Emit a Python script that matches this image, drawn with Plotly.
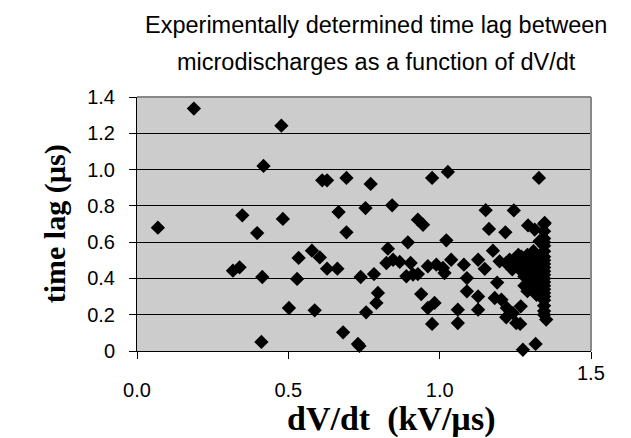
import plotly.graph_objects as go

# dV/dt (kV/us) and measured time lag (us)
dvdt = [
    0.069, 0.188, 0.348, 0.317, 0.339, 0.397, 0.414, 0.411, 0.418, 0.477,
    0.482, 0.502, 0.529, 0.534, 0.578, 0.587, 0.604, 0.612, 0.628, 0.628,
    0.662, 0.666, 0.681, 0.692, 0.692, 0.730, 0.735, 0.739, 0.755, 0.757,
    0.772, 0.783, 0.791, 0.796, 0.824, 0.829, 0.843, 0.846, 0.868, 0.890,
    0.895, 0.904, 0.912, 0.928, 0.939, 0.945, 0.961, 0.975, 0.961, 0.975,
    0.983, 0.989, 1.011, 1.016, 1.022, 1.027, 1.038, 1.060, 1.060, 1.080,
    1.090, 1.090, 1.127, 1.127, 1.127, 1.149, 1.152, 1.163, 1.176, 1.182,
    1.190, 1.198, 1.204, 1.217, 1.220, 1.222, 1.220, 1.231, 1.245, 1.242,
    1.253, 1.266, 1.268, 1.275, 1.317, 1.292, 1.314, 1.330, 1.328, 1.347,
    1.352, 0.928,
    # dense cluster near 1.3
    1.25, 1.26, 1.27, 1.27, 1.28, 1.28, 1.29, 1.29, 1.30, 1.30,
    1.30, 1.31, 1.31, 1.31, 1.32, 1.32, 1.32, 1.33, 1.33, 1.33,
    1.24, 1.26, 1.28, 1.29,
    # column at the right edge of the data
    1.345, 1.345, 1.345, 1.345, 1.345, 1.345, 1.345, 1.345, 1.345, 1.345,
    1.345, 1.345, 1.345, 1.345, 1.345, 1.345, 1.345, 1.345, 1.345, 1.345,
    1.345, 1.345,
]
time_lag = [
    0.680, 1.336, 0.748, 0.443, 0.461, 0.650, 0.408, 0.050, 1.020, 1.242,
    0.728, 0.237, 0.397, 0.513, 0.553, 0.224, 0.516, 0.941, 0.941, 0.454,
    0.454, 0.766, 0.103, 0.954, 0.654, 0.039, 0.028, 0.408, 0.788, 0.213,
    0.921, 0.424, 0.265, 0.320, 0.485, 0.564, 0.803, 0.503, 0.491, 0.412,
    0.599, 0.485, 0.421, 0.724, 0.314, 0.696, 0.237, 0.149, 0.467, 0.954,
    0.265, 0.476, 0.458, 0.430, 0.610, 0.987, 0.503, 0.228, 0.154, 0.476,
    0.402, 0.329, 0.503, 0.301, 0.228, 0.453, 0.776, 0.673, 0.553, 0.292,
    0.377, 0.494, 0.283, 0.654, 0.485, 0.237, 0.186, 0.503, 0.775, 0.209,
    0.154, 0.149, 0.246, 0.007, 0.039, 0.692, 0.669, 0.605, 0.954, 0.706,
    0.173, 0.424,
    0.50, 0.47, 0.52, 0.44, 0.48, 0.41, 0.53, 0.45, 0.38, 0.50,
    0.42, 0.47, 0.35, 0.55, 0.40, 0.44, 0.31, 0.49, 0.37, 0.52,
    0.45, 0.53, 0.36, 0.33,
    0.70, 0.66, 0.62, 0.60, 0.58, 0.55, 0.52, 0.50, 0.48, 0.46,
    0.44, 0.42, 0.40, 0.38, 0.36, 0.34, 0.32, 0.30, 0.28, 0.25,
    0.22, 0.20,
]

x_ticks = [0.0, 0.5, 1.0, 1.5]
x_tick_labels = ["0.0", "0.5", "1.0", ""]
y_ticks = [0, 0.2, 0.4, 0.6, 0.8, 1.0, 1.2, 1.4]
y_tick_labels = ["0", "0.2", "0.4", "0.6", "0.8", "1.0", "1.2", "1.4"]

fig = go.Figure()
fig.add_trace(go.Scatter(
    x=dvdt, y=time_lag, mode="markers",
    marker=dict(symbol="diamond", size=11, color="black"),
    cliponaxis=False, showlegend=False,
))

tick_font = dict(family="Liberation Sans, Arial", size=20, color="black")
serif = "Liberation Serif, Times New Roman"
sans = "Liberation Sans, Arial"

fig.update_layout(
    width=631, height=438,
    margin=dict(l=129, r=48, t=89, b=95),
    paper_bgcolor="white", plot_bgcolor="#cccccc",
    xaxis=dict(
        range=[0, 1.5], tickvals=x_ticks, ticktext=x_tick_labels,
        showgrid=False, zeroline=False, showline=True, linecolor="black",
        linewidth=1, ticks="outside", ticklen=7, tickcolor="black",
        tickfont=tick_font, ticklabelstandoff=14,
    ),
    yaxis=dict(
        range=[0, 1.4], tickvals=y_ticks, ticktext=y_tick_labels,
        showgrid=True, gridcolor="black", gridwidth=1, zeroline=False,
        showline=True, linecolor="black", linewidth=1,
        ticks="outside", ticklen=7, tickcolor="black", tickfont=tick_font,
        ticklabelstandoff=10,
    ),
    shapes=[
        dict(type="line", xref="paper", yref="paper", x0=0, x1=1, y0=1, y1=1,
             line=dict(color="#888888", width=2)),
        dict(type="line", xref="paper", yref="paper", x0=1, x1=1, y0=0, y1=1,
             line=dict(color="#888888", width=2)),
    ],
    annotations=[
        dict(text="Experimentally determined time lag between", xref="paper", yref="paper",
             x=0.527, y=1.0, yshift=72, showarrow=False, yanchor="middle",
             font=dict(family=sans, size=23.5, color="black")),
        dict(text="microdischarges as a function of dV/dt", xref="paper", yref="paper",
             x=0.527, y=1.0, yshift=35, showarrow=False, yanchor="middle",
             font=dict(family=sans, size=23.5, color="black")),
        dict(text="1.5", x=1.5, xref="x", yref="paper", y=0, yshift=-22,
             showarrow=False, yanchor="middle", font=tick_font),
        dict(text="<b>dV/dt\u00a0\u00a0(kV/µs)</b>", xref="paper", yref="paper",
             x=0.56, y=0, yshift=-68, showarrow=False, yanchor="middle",
             font=dict(family=serif, size=34, color="black")),
        dict(text="<b>time lag (µs)</b>", xref="paper", yref="paper",
             x=-0.18, y=0.5, textangle=-90, showarrow=False,
             xanchor="center", yanchor="middle",
             font=dict(family=serif, size=30, color="black")),
    ],
)

fig.write_html("out.html")
